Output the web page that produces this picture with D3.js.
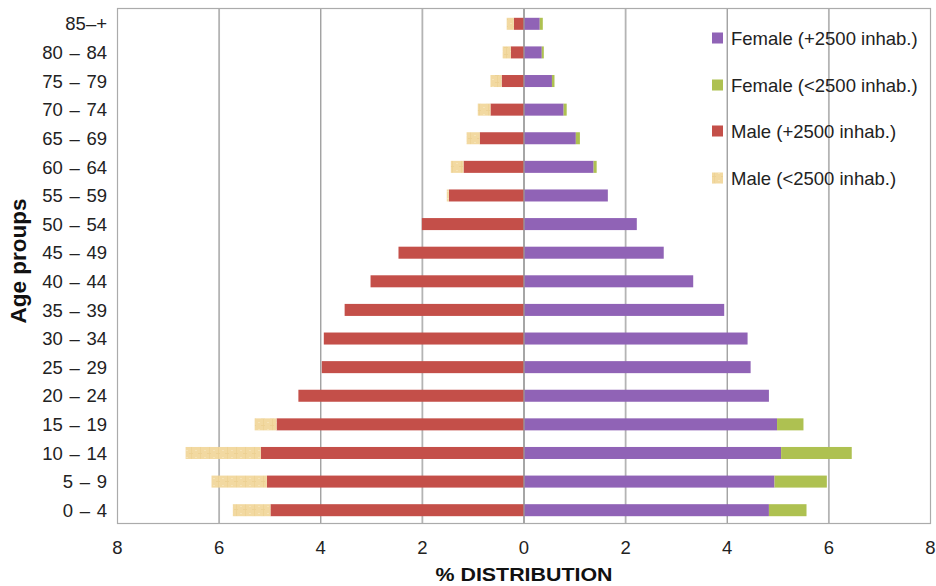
<!DOCTYPE html>
<html><head><meta charset="utf-8">
<script src="https://cdn.jsdelivr.net/npm/d3@7"></script>
<style>body{margin:0;background:#fff}svg{display:block}text{font-family:"Liberation Sans",Arial,Helvetica,sans-serif}</style>
</head><body>
<svg id="c" width="936" height="586"></svg>
<script>
const ages = ["0 – 4","5 – 9","10 – 14","15 – 19","20 – 24","25 – 29","30 – 34","35 – 39","40 – 44","45 – 49","50 – 54","55 – 59","60 – 64","65 – 69","70 – 74","75 – 79","80 – 84","85–+"];
const femaleUrban = [4.82,4.93,5.06,4.98,4.82,4.46,4.40,3.94,3.33,2.75,2.22,1.65,1.37,1.02,0.78,0.55,0.35,0.31];
const femaleRural = [0.74,1.03,1.39,0.52,0,0,0,0,0,0,0,0,0.06,0.08,0.06,0.05,0.04,0.06];
const maleUrban   = [4.99,5.06,5.18,4.87,4.44,3.98,3.94,3.53,3.02,2.47,2.01,1.48,1.19,0.87,0.66,0.44,0.26,0.20];
const maleRural   = [0.74,1.09,1.48,0.43,0,0,0,0,0,0,0,0.04,0.25,0.26,0.25,0.22,0.16,0.14];
const xTicks = [-8,-6,-4,-2,0,2,4,6,8];
const legendLabels = ["Female (+2500 inhab.)","Female (<2500 inhab.)","Male (+2500 inhab.)","Male (<2500 inhab.)"];

const C = {fu:"#9063b6", fr:"#aec151", mu:"#c44f49", mr:"url(#tan)"};
const svg = d3.select("#c");
const defs = svg.append("defs");
const pat = defs.append("pattern").attr("id","tan").attr("patternUnits","userSpaceOnUse").attr("width",9).attr("height",7);
pat.append("rect").attr("width",9).attr("height",7).attr("fill","#f2d9a1");
pat.append("rect").attr("x",2).attr("y",0).attr("width",1).attr("height",7).attr("fill","#eed396");
pat.append("rect").attr("x",6).attr("y",2).attr("width",2).attr("height",1).attr("fill","#f6e3b6");
pat.append("rect").attr("x",0).attr("y",5).attr("width",4).attr("height",1).attr("fill","#edd193");

const x = d3.scaleLinear().domain([-8,8]).range([117.5,930.5]);
const y = d3.scaleBand().domain(ages.slice().reverse()).range([9.5,524.5]).paddingInner(0.58).paddingOuter(0.29);

// gridlines
svg.append("g").selectAll("line").data(xTicks.filter(t=>Math.abs(t)<8)).join("line")
  .attr("x1",d=>x(d)).attr("x2",d=>x(d)).attr("y1",9).attr("y2",523)
  .attr("stroke",d=>Math.abs(d)===4||d===0?"#9a9a9a":"#b4b4b4").attr("stroke-width",d=>Math.abs(d)===4||d===0?1.3:1.8);

const rows = ages.map((a,i)=>({a, fu:femaleUrban[i], fr:femaleRural[i], mu:maleUrban[i], mr:maleRural[i]}));
const g = svg.append("g");
const bh = y.bandwidth();
g.selectAll(".mu").data(rows).join("rect").attr("x",d=>x(-d.mu)).attr("width",d=>x(0)-x(-d.mu)).attr("y",d=>y(d.a)).attr("height",bh).attr("fill",C.mu);
g.selectAll(".mr").data(rows.filter(d=>d.mr>0)).join("rect").attr("x",d=>x(-(d.mu+d.mr))).attr("width",d=>x(-d.mu)-x(-(d.mu+d.mr))).attr("y",d=>y(d.a)).attr("height",bh).attr("fill",C.mr);
g.selectAll(".fu").data(rows).join("rect").attr("x",x(0)).attr("width",d=>x(d.fu)-x(0)).attr("y",d=>y(d.a)).attr("height",bh).attr("fill",C.fu);
g.selectAll(".fr").data(rows.filter(d=>d.fr>0)).join("rect").attr("x",d=>x(d.fu)).attr("width",d=>x(d.fu+d.fr)-x(d.fu)).attr("y",d=>y(d.a)).attr("height",bh).attr("fill",C.fr);

svg.append("line").attr("x1",x(0)).attr("x2",x(0)).attr("y1",9).attr("y2",523).attr("stroke","#9a9a9a").attr("stroke-width",1.3);

svg.append("rect").attr("x",117.5).attr("y",8.5).attr("width",813).attr("height",515).attr("fill","none").attr("stroke","#ababab").attr("stroke-width",1.2);

svg.append("g").selectAll("text").data(ages).join("text")
  .attr("x",107).attr("y",d=>y(d)+bh/2).attr("dy","0.36em").attr("text-anchor","end")
  .attr("font-size",18.5).attr("word-spacing",1.5).attr("fill","#222").text(d=>d);

svg.append("g").selectAll("text").data(xTicks).join("text")
  .attr("x",d=>x(d)).attr("y",554).attr("text-anchor","middle").attr("font-size",18.5).attr("fill","#222").text(d=>Math.abs(d));

svg.append("text").attr("x",x(0)).attr("y",581).attr("text-anchor","middle").attr("font-size",19).attr("font-weight","bold")
  .attr("textLength",177).attr("lengthAdjust","spacingAndGlyphs").attr("fill","#111").text("% DISTRIBUTION");

svg.append("text").attr("transform","translate(26,261) rotate(-90)").attr("text-anchor","middle").attr("font-size",22.5).attr("font-weight","bold").attr("fill","#111").text("Age proups");

const legY = [38,85,131,178];
const legFill = [C.fu,C.fr,C.mu,C.mr];
const lg = svg.append("g").selectAll("g").data(legendLabels).join("g").attr("transform",(d,i)=>`translate(712,${legY[i]})`);
lg.append("rect").attr("x",0).attr("y",-5.5).attr("width",11).attr("height",11).attr("fill",(d,i)=>legFill[i]);
lg.append("text").attr("x",19).attr("y",0).attr("dy","0.36em").attr("font-size",18.5).attr("fill","#222").text(d=>d);
</script>
</body></html>
